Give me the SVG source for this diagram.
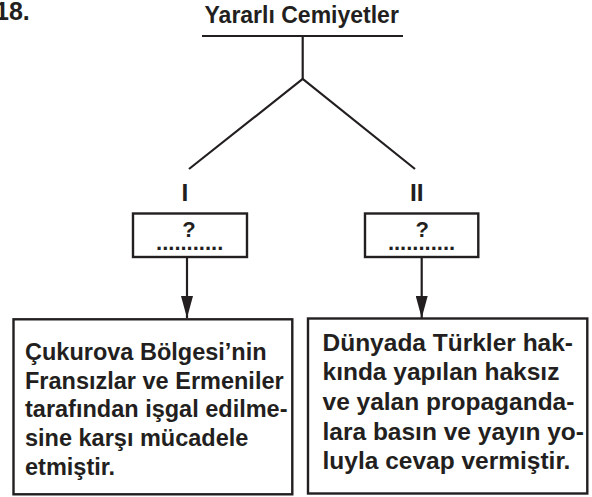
<svg xmlns="http://www.w3.org/2000/svg" width="592" height="497" viewBox="0 0 592 497">
<style>
text{font-family:"Liberation Sans",Arial,sans-serif;font-weight:bold;fill:#231f20}
.ln{stroke:#231f20;fill:none;stroke-width:2.2}
.box{stroke:#231f20;fill:#fff;stroke-width:2.4}
.body{font-size:23.5px}
.body2{font-size:24.5px}
.q{font-size:22px;text-anchor:middle}
.rn{font-size:24.5px;text-anchor:middle}
</style>
<defs>
<marker id="ah" markerUnits="userSpaceOnUse" markerWidth="22" markerHeight="12" refX="22" refY="6" orient="auto">
<path d="M0,0 L22,6 L0,12 z" fill="#231f20"/>
</marker>
</defs>
<rect width="592" height="497" fill="#fff"/>
<text x="-5" y="20" font-size="25">18.</text>
<g id="root">
<text x="301.7" y="23" font-size="23" text-anchor="middle">Yararlı Cemiyetler</text>
<line class="ln" x1="202" y1="36" x2="403" y2="36" stroke-width="2.7"/>
</g>
<g id="connectors">
<polyline class="ln" points="302.7,36 302.7,79"/>
<polyline class="ln" points="189,169 302.7,79 415,169"/>
<line class="ln" x1="187" y1="257" x2="187" y2="318" marker-end="url(#ah)"/>
<line class="ln" x1="421.7" y1="257" x2="421.7" y2="318" marker-end="url(#ah)"/>
</g>
<g id="label-I"><text class="rn" x="185" y="201">I</text></g>
<g id="label-II"><text class="rn" x="416.7" y="201">II</text></g>
<g id="q1">
<rect class="box" x="133" y="213.5" width="114" height="43.5"/>
<text class="q" x="189" y="236.7">?</text>
<text class="q" x="189.7" y="249.5">...........</text>
</g>
<g id="q2">
<rect class="box" x="365" y="213.5" width="113.3" height="43.5"/>
<text class="q" x="422.3" y="236.7">?</text>
<text class="q" x="421.5" y="249.5">...........</text>
</g>
<g id="box1">
<rect class="box" x="13.5" y="319.3" width="278.8" height="175"/>
<text class="body" x="25">
<tspan x="25" y="360">Çukurova Bölgesi’nin</tspan>
<tspan x="25" y="388.7">Fransızlar ve Ermeniler</tspan>
<tspan x="25" y="417.4">tarafından işgal edilme-</tspan>
<tspan x="25" y="446.1">sine karşı mücadele</tspan>
<tspan x="25" y="474.8">etmiştir.</tspan>
</text>
</g>
<g id="box2">
<rect class="box" x="308" y="318.5" width="279.3" height="175"/>
<text class="body2" x="322.5">
<tspan x="322.5" y="350.5">Dünyada Türkler hak-</tspan>
<tspan x="322.5" y="380.2">kında yapılan haksız</tspan>
<tspan x="322.5" y="409.9">ve yalan propaganda-</tspan>
<tspan x="322.5" y="439.6">lara basın ve yayın yo-</tspan>
<tspan x="322.5" y="469.3">luyla cevap vermiştir.</tspan>
</text>
</g>
</svg>
